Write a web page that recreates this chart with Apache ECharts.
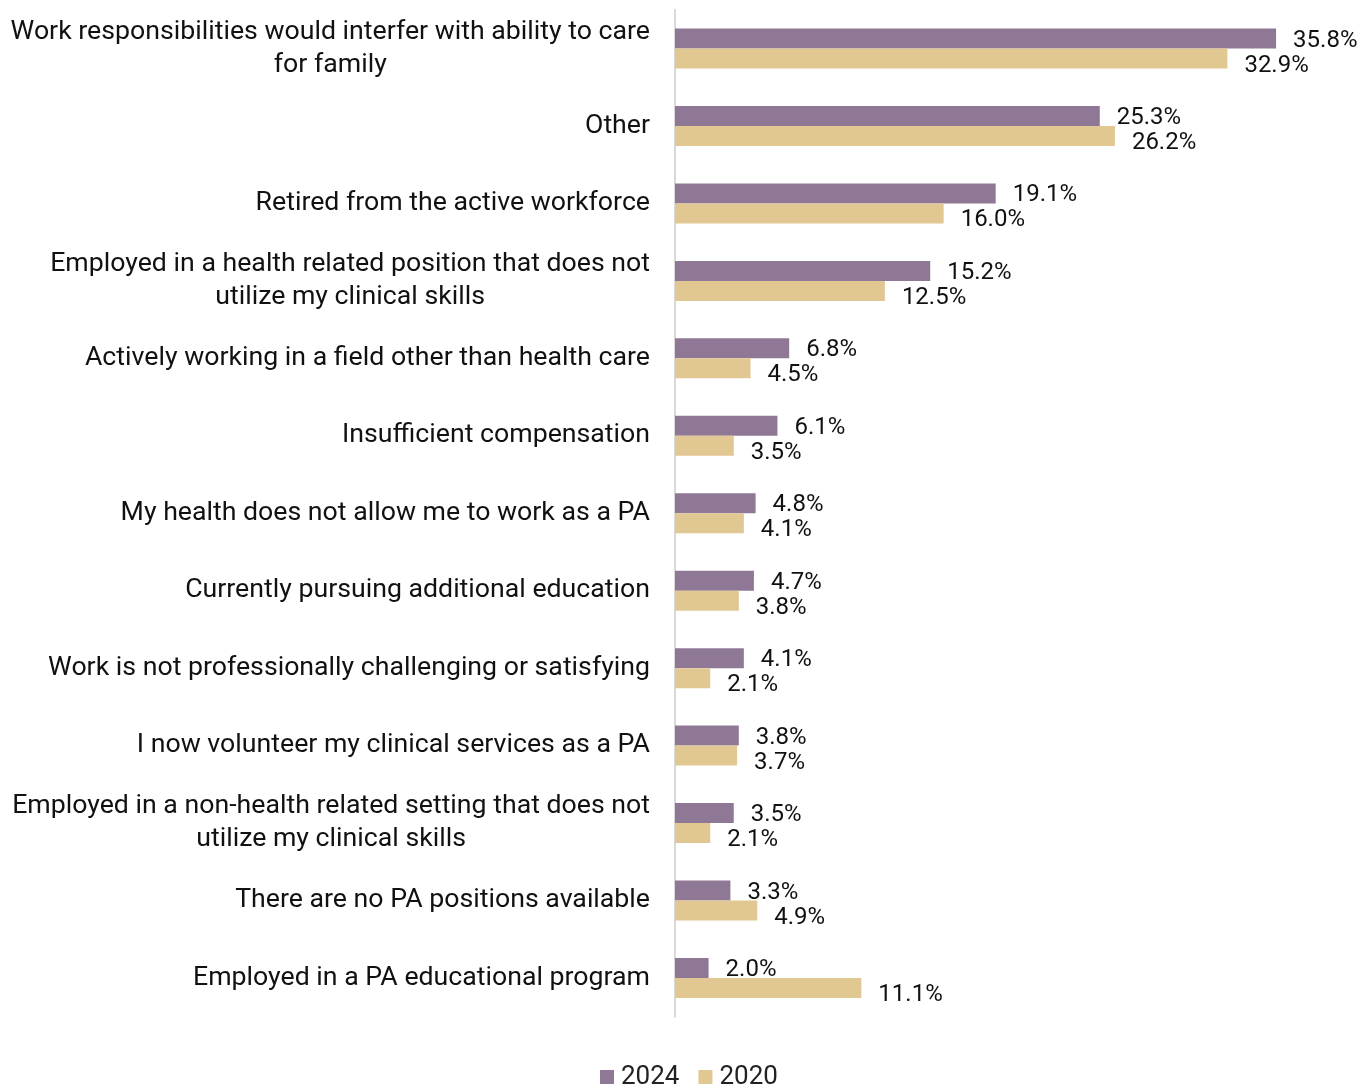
<!DOCTYPE html>
<html><head><meta charset="utf-8">
<script src="https://cdn.jsdelivr.net/npm/echarts@6/dist/echarts.min.js"></script>
<style>html,body{margin:0;padding:0;background:#fff}#c{width:1372px;height:1087px}</style>
</head><body><div id="c"></div>
<script>
const categories = [
  'Work responsibilities would interfer with ability to care\nfor family',
  'Other',
  'Retired from the active workforce',
  'Employed in a health related position that does not\nutilize my clinical skills',
  'Actively working in a field other than health care',
  'Insufficient compensation',
  'My health does not allow me to work as a PA',
  'Currently pursuing additional education',
  'Work is not professionally challenging or satisfying',
  'I now volunteer my clinical services as a PA',
  'Employed in a non-health related setting that does not\nutilize my clinical skills',
  'There are no PA positions available',
  'Employed in a PA educational program'
];
const values2024 = [35.8, 25.3, 19.1, 15.2, 6.8, 6.1, 4.8, 4.7, 4.1, 3.8, 3.5, 3.3, 2.0];
const values2020 = [32.9, 26.2, 16.0, 12.5, 4.5, 3.5, 4.1, 3.8, 2.1, 3.7, 2.1, 4.9, 11.1];
const seriesNames = ['2024', '2020'];

const FONT = 'Roboto, "Noto Sans", sans-serif';
const chart = echarts.init(document.getElementById('c'));
chart.setOption({
  backgroundColor: '#fff',
  animation: false,
  grid: { left: 675, right: 25.4, top: 9.8, bottom: 70.3, containLabel: false },
  legend: {
    data: seriesNames, top: 1059, left: 595, icon: 'rect',
    itemWidth: 14, itemHeight: 14, itemGap: 19,
    textStyle: { fontFamily: FONT, fontSize: 26, color: '#222', padding: [0, 0, 0, 2] }
  },
  xAxis: {
    type: 'value', min: 0, max: 40, show: false
  },
  yAxis: {
    type: 'category', data: categories, inverse: true,
    axisLine: { show: true, lineStyle: { color: '#d9d9d9', width: 2 } },
    axisTick: { show: false },
    axisLabel: {
      margin: 25, color: '#111', fontFamily: FONT, fontSize: 26.7,
      formatter: (v) => v.split('\n').map(l => '{c|' + l + '}').join('\n'),
      rich: { c: { align: 'center', fontFamily: FONT, fontSize: 26.7, lineHeight: 33, color: '#111' } }
    }
  },
  series: [
    {
      name: seriesNames[0], type: 'bar', data: values2024, barWidth: 20, barGap: '0%',
      itemStyle: { color: '#8f7896' },
      label: { show: true, position: 'right', distance: 17, offset: [0, 2], fontFamily: FONT, fontSize: 24, color: '#111',
        formatter: p => p.value.toFixed(1) + '%' }
    },
    {
      name: seriesNames[1], type: 'bar', data: values2020, barWidth: 20, barGap: '0%',
      itemStyle: { color: '#e1c791' },
      label: { show: true, position: 'right', distance: 17, offset: [0, 7], fontFamily: FONT, fontSize: 24, color: '#111',
        formatter: p => p.value.toFixed(1) + '%' }
    }
  ]
});
</script></body></html>
